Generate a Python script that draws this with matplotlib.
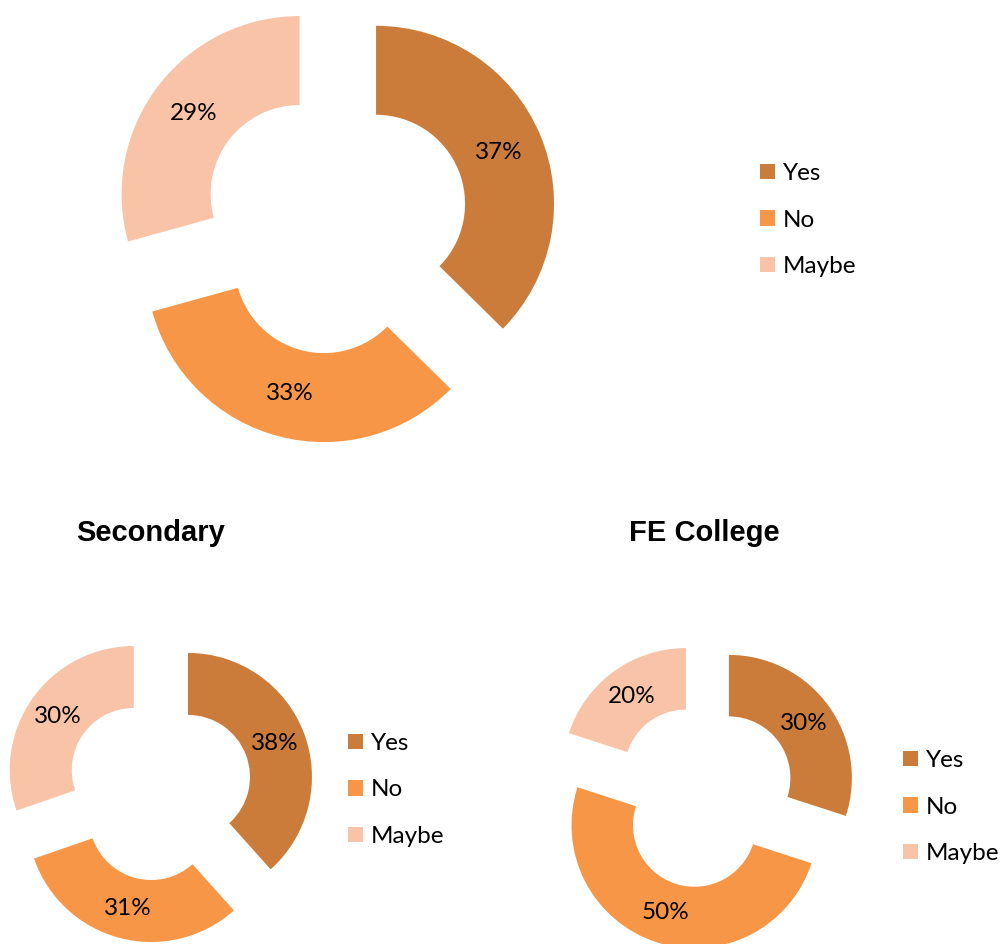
import matplotlib.pyplot as plt
from matplotlib.patches import Patch

W, H = 1001, 944

categories = ["Yes", "No", "Maybe"]
colors = ["#CC7C3A", "#F79646", "#F9C3A7"]

overall_values = [37, 33, 29]
secondary_values = [38, 31, 30]
college_values = [30, 50, 20]

titles = ["Secondary", "FE College"]

LABEL_FONT = ["Lato", "DejaVu Sans"]
TITLE_FONT = ["Liberation Sans", "DejaVu Sans"]


def px_axes(fig, cx, cy, half):
    """Square axes centred on (cx, cy) in pixel coords (y down)."""
    return fig.add_axes([(cx - half) / W, 1 - (cy + half) / H,
                         2 * half / W, 2 * half / H])


def donut(fig, cx, cy, radius_px, values):
    lim = 1.3
    ax = px_axes(fig, cx, cy, lim * radius_px)
    total = sum(values)
    ax.pie(
        values,
        colors=colors,
        startangle=90,
        counterclock=False,
        radius=1.0,
        explode=[0.25] * len(values),
        wedgeprops=dict(width=0.5, edgecolor="none"),
        autopct=lambda p: f"{p * total / 100:.0f}%",
        pctdistance=0.75,
        textprops=dict(fontsize=17.5, family=LABEL_FONT, color="black"),
    )
    ax.set_xlim(-lim, lim)
    ax.set_ylim(-lim, lim)
    ax.set_aspect("equal")
    ax.axis("off")
    return ax


def legend(fig, x, y):
    handles = [Patch(facecolor=c, edgecolor="none", label=l)
               for c, l in zip(colors, categories)]
    fig.legend(
        handles=handles,
        loc="center left",
        bbox_to_anchor=(x / W, 1 - y / H),
        bbox_transform=fig.transFigure,
        frameon=False,
        prop=dict(family=LABEL_FONT, size=17.5),
        handlelength=0.6,
        handleheight=0.6,
        handletextpad=0.33,
        labelspacing=1.05,
        borderpad=0,
        borderaxespad=0,
    )


fig = plt.figure(figsize=(W / 100, H / 100), dpi=100)

# top: all respondents
donut(fig, 335, 221, 178, overall_values)
legend(fig, 760, 220)

# bottom row
donut(fig, 159, 788, 124, secondary_values)
legend(fig, 348, 790)

donut(fig, 704, 796, 123, college_values)
legend(fig, 903, 807)

for title, x in zip(titles, [151, 704]):
    fig.text(x / W, 1 - 541 / H, title, ha="center", va="baseline",
             fontsize=21, fontweight="bold", family=TITLE_FONT)

fig.savefig("out.png", dpi=100)
